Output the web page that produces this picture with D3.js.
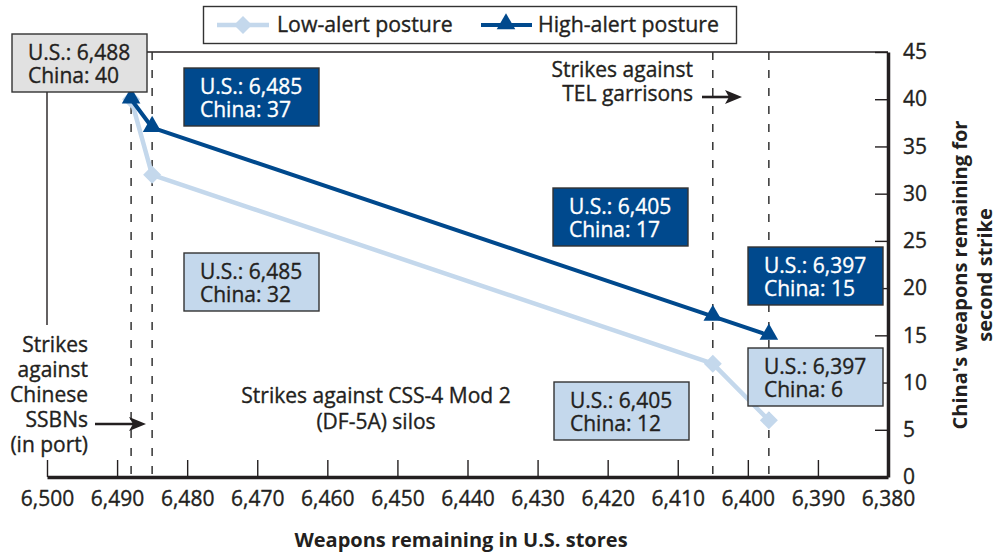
<!DOCTYPE html>
<html>
<head>
<meta charset="utf-8">
<script src="https://cdn.jsdelivr.net/npm/d3@7/dist/d3.min.js"></script>
<style>
  html, body { margin: 0; padding: 0; background: #fff; }
  svg { display: block; font-family: "Open Sans", "Noto Sans", sans-serif; }
  text.body { stroke-width: 0.35px; paint-order: stroke; }
</style>
</head>
<body>
<svg id="chart" width="999" height="555"></svg>
<script>
// U.S. weapons remaining after each strike phase, and China's surviving weapons
const usStores = [6488, 6485, 6405, 6397];
const lowAlert = [40, 32, 12, 6];
const highAlert = [40, 37, 17, 15];
const seriesNames = ["Low-alert posture", "High-alert posture"];
const xTicks = [6500, 6490, 6480, 6470, 6460, 6450, 6440, 6430, 6420, 6410, 6400, 6390, 6380];
const yTicks = [0, 5, 10, 15, 20, 25, 30, 35, 40, 45];
const phaseBounds = [6488, 6485, 6405, 6397];

const INK = "#231f20";
const DARK = "#00498d";
const LIGHT = "#c4d8ec";
const GREY = "#e1e1e1";
const FS = 21;

const svg = d3.select("#chart");
const x = d3.scaleLinear().domain([6500, 6380]).range([47, 888]);
const y = d3.scaleLinear().domain([0, 45]).range([477, 52]);
const fmt = d3.format(",");

// thin frame pieces (top edge and left edge)
svg.append("line").attr("x1", 146).attr("x2", x(6380)).attr("y1", y(45)).attr("y2", y(45))
  .attr("stroke", INK).attr("stroke-width", 1.4);
svg.append("line").attr("x1", x(6500)).attr("x2", x(6500)).attr("y1", 92).attr("y2", 325)
  .attr("stroke", INK).attr("stroke-width", 1.4);

// dashed phase boundaries
svg.append("g").selectAll("line").data(phaseBounds).join("line")
  .attr("x1", d => x(d)).attr("x2", d => x(d))
  .attr("y1", y(45)).attr("y2", y(0))
  .attr("stroke", "#333").attr("stroke-width", 1.5)
  .attr("stroke-dasharray", "8,10");

// bottom axis
const gx = svg.append("g").attr("transform", `translate(0,${y(0)})`)
  .call(d3.axisBottom(x).tickValues(xTicks).tickFormat(fmt)
    .tickSizeInner(-17).tickSizeOuter(0).tickPadding(14));
gx.select(".domain").attr("stroke", INK).attr("stroke-width", 3.5);
gx.selectAll(".tick line").attr("stroke", INK).attr("stroke-width", 1.4);
gx.selectAll(".tick text").attr("class", "body").attr("fill", INK).attr("stroke", INK)
  .attr("font-size", FS).attr("font-family", "'Open Sans', sans-serif");

// right axis
const gy = svg.append("g").attr("transform", `translate(${x(6380)},0)`)
  .call(d3.axisRight(y).tickValues(yTicks)
    .tickSizeInner(-13).tickSizeOuter(0).tickPadding(15));
gy.select(".domain").attr("stroke", INK).attr("stroke-width", 3.5);
gy.selectAll(".tick line").attr("stroke", INK).attr("stroke-width", 1.4);
gy.selectAll(".tick text").attr("class", "body").attr("fill", INK).attr("stroke", INK)
  .attr("font-size", FS).attr("font-family", "'Open Sans', sans-serif");

// axis titles
svg.append("text").attr("x", 461).attr("y", 547).attr("text-anchor", "middle")
  .attr("font-size", 20).attr("font-weight", "bold").attr("fill", INK)
  .text("Weapons remaining in U.S. stores");
const yTitle = svg.append("text").attr("transform", "translate(960,275) rotate(-90)")
  .attr("text-anchor", "middle").attr("font-size", 20).attr("font-weight", "bold").attr("fill", INK);
yTitle.append("tspan").attr("x", 0).attr("dy", "0.35em").text("China's weapons remaining for");
yTitle.append("tspan").attr("x", 0).attr("dy", 25).text("second strike");

// series
const line = d3.line().x(d => x(d[0])).y(d => y(d[1]));
const lowPts = usStores.map((u, i) => [u, lowAlert[i]]);
const highPts = usStores.map((u, i) => [u, highAlert[i]]);
const diamond = r => `M0,${-r}L${r},0L0,${r}L${-r},0Z`;
const tri = d3.symbol().type(d3.symbolTriangle).size(150);

svg.append("path").datum(lowPts).attr("d", line).attr("fill", "none")
  .attr("stroke", LIGHT).attr("stroke-width", 4.5).attr("stroke-linejoin", "round");
svg.append("g").selectAll("path").data(lowPts).join("path")
  .attr("transform", d => `translate(${x(d[0])},${y(d[1])})`)
  .attr("d", diamond(9)).attr("fill", LIGHT);

svg.append("path").datum(highPts).attr("d", line).attr("fill", "none")
  .attr("stroke", DARK).attr("stroke-width", 4).attr("stroke-linejoin", "round");
svg.append("g").selectAll("path").data(highPts).join("path")
  .attr("transform", d => `translate(${x(d[0])},${y(d[1]) - 1})`)
  .attr("d", tri).attr("fill", DARK);

// value callouts for each point
const callouts = [
  { us: usStores[0], china: highAlert[0], fill: GREY, ink: INK, bx: 12, by: 34 },
  { us: usStores[1], china: highAlert[1], fill: DARK, ink: "#fff", bx: 184, by: 68 },
  { us: usStores[2], china: highAlert[2], fill: DARK, ink: "#fff", bx: 553, by: 188 },
  { us: usStores[3], china: highAlert[3], fill: DARK, ink: "#fff", bx: 748, by: 247 },
  { us: usStores[1], china: lowAlert[1], fill: LIGHT, ink: INK, bx: 184, by: 253 },
  { us: usStores[2], china: lowAlert[2], fill: LIGHT, ink: INK, bx: 554, by: 382 },
  { us: usStores[3], china: lowAlert[3], fill: LIGHT, ink: INK, bx: 748, by: 348 }
];
const cg = svg.append("g").selectAll("g").data(callouts).join("g")
  .attr("transform", d => `translate(${d.bx},${d.by})`);
cg.append("rect").attr("width", 135).attr("height", 58)
  .attr("fill", d => d.fill).attr("stroke", "#333").attr("stroke-width", 1.4);
cg.append("text").attr("class", "body").attr("x", 16).attr("y", 26).attr("font-size", FS)
  .attr("fill", d => d.ink).attr("stroke", d => d.ink).text(d => `U.S.: ${fmt(d.us)}`);
cg.append("text").attr("class", "body").attr("x", 16).attr("y", 49).attr("font-size", FS)
  .attr("fill", d => d.ink).attr("stroke", d => d.ink).text(d => `China: ${d.china}`);

// arrow shafts and heads
const arrow = (x1, x2, yy) => {
  svg.append("line").attr("x1", x1).attr("x2", x2 - 12).attr("y1", yy).attr("y2", yy)
    .attr("stroke", INK).attr("stroke-width", 2.6);
  svg.append("path").attr("transform", `translate(${x2},${yy})`)
    .attr("d", "M0,0L-17,-7L-13,0L-17,7Z").attr("fill", INK);
};

// phase notes
const note = (lines, xPos, yPos, anchor, step) => {
  const t = svg.append("text").attr("class", "body").attr("text-anchor", anchor)
    .attr("font-size", FS).attr("fill", INK).attr("stroke", INK);
  lines.forEach((s, i) => t.append("tspan").attr("x", xPos).attr("y", yPos + i * step).text(s));
};
note(["Strikes against", "TEL garrisons"], 693, 77, "end", 24);
arrow(702, 742, 97);

note(["Strikes", "against", "Chinese", "SSBNs", "(in port)"], 88, 352, "end", 25);
arrow(95, 146, 424);

note(["Strikes against CSS-4 Mod 2", "(DF-5A) silos"], 376, 403, "middle", 26);

// legend
const lg = svg.append("g");
lg.append("rect").attr("x", 203.5).attr("y", 6.5).attr("width", 533).attr("height", 37)
  .attr("fill", "#fff").attr("stroke", "#333").attr("stroke-width", 1.4);
lg.append("line").attr("x1", 217).attr("x2", 269).attr("y1", 25).attr("y2", 25)
  .attr("stroke", LIGHT).attr("stroke-width", 4.5);
lg.append("path").attr("transform", "translate(243,25)").attr("d", diamond(9)).attr("fill", LIGHT);
lg.append("text").attr("class", "body").attr("x", 277).attr("y", 32).attr("font-size", 21.3)
  .attr("fill", INK).attr("stroke", INK).text(seriesNames[0]);
lg.append("line").attr("x1", 481).attr("x2", 532).attr("y1", 25).attr("y2", 25)
  .attr("stroke", DARK).attr("stroke-width", 4);
lg.append("path").attr("transform", "translate(506,24)").attr("d", tri).attr("fill", DARK);
lg.append("text").attr("class", "body").attr("x", 538).attr("y", 32).attr("font-size", 21.3)
  .attr("fill", INK).attr("stroke", INK).text(seriesNames[1]);
</script>
</body>
</html>
